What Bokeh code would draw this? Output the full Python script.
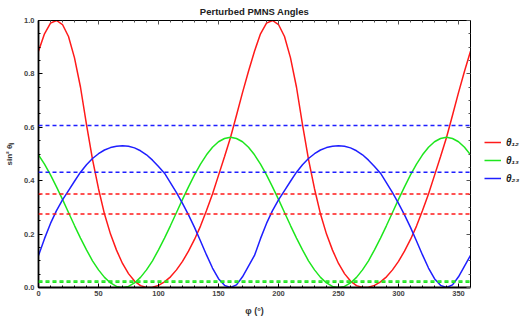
from bokeh.plotting import figure
from bokeh.layouts import row
from bokeh.models import (Range1d, FixedTicker, LinearAxis, Legend, LegendItem,
                          Span, CustomJSTickFormatter)
from bokeh.embed import file_html
from bokeh.resources import INLINE

# ---- data ----
phi = list(range(0, 361, 5))

theta12 = [0.885, 0.950, 0.990, 1.000, 0.985, 0.940, 0.860, 0.750, 0.610, 0.480,
           0.370, 0.275, 0.200, 0.140, 0.090, 0.052, 0.024, 0.007, 0.000, 0.001,
           0.008, 0.021, 0.040, 0.066, 0.098, 0.136, 0.180, 0.230, 0.288, 0.350,
           0.420, 0.490, 0.562, 0.645, 0.730, 0.810, 0.885,
           0.950, 0.990, 1.000, 0.985, 0.940, 0.860, 0.750, 0.610, 0.480,
           0.370, 0.275, 0.200, 0.140, 0.090, 0.052, 0.024, 0.007, 0.000, 0.001,
           0.008, 0.021, 0.040, 0.066, 0.098, 0.136, 0.180, 0.230, 0.288, 0.350,
           0.420, 0.490, 0.562, 0.645, 0.730, 0.810, 0.885]

theta13 = [0.497, 0.462, 0.422, 0.377, 0.330, 0.281, 0.232, 0.185, 0.141, 0.100,
           0.066, 0.038, 0.017, 0.004, 0.000, 0.004, 0.017, 0.038, 0.066, 0.100,
           0.141, 0.185, 0.232, 0.281, 0.330, 0.377, 0.422, 0.462, 0.497, 0.525,
           0.546, 0.558, 0.5625, 0.558, 0.546, 0.525, 0.497,
           0.462, 0.422, 0.377, 0.330, 0.281, 0.232, 0.185, 0.141, 0.100,
           0.066, 0.038, 0.017, 0.004, 0.000, 0.004, 0.017, 0.038, 0.066, 0.100,
           0.141, 0.185, 0.232, 0.281, 0.330, 0.377, 0.422, 0.462, 0.497, 0.525,
           0.546, 0.558, 0.5625, 0.558, 0.546, 0.525, 0.497]

theta23 = [0.120, 0.183, 0.240, 0.288, 0.328, 0.363, 0.398, 0.432, 0.460, 0.483,
           0.501, 0.515, 0.524, 0.529, 0.531, 0.529, 0.523, 0.512, 0.497, 0.477,
           0.453, 0.428, 0.392, 0.355, 0.315, 0.272, 0.225, 0.174, 0.122, 0.073,
           0.033, 0.008, 0.000, 0.010, 0.040, 0.080, 0.120,
           0.183, 0.240, 0.288, 0.328, 0.363, 0.398, 0.432, 0.460, 0.483,
           0.501, 0.515, 0.524, 0.529, 0.531, 0.529, 0.523, 0.512, 0.497, 0.477,
           0.453, 0.428, 0.392, 0.355, 0.315, 0.272, 0.225, 0.174, 0.122, 0.073,
           0.033, 0.008, 0.000, 0.010, 0.040, 0.080, 0.120]

theta12_bounds = [0.275, 0.350]
theta13_bounds = [0.0199, 0.0244]
theta23_bounds = [0.432, 0.607]

x_ticks = [0, 50, 100, 150, 200, 250, 300, 350]
x_minor = list(range(0, 361, 10))
y_ticks = [0.0, 0.2, 0.4, 0.6, 0.8, 1.0]
y_tick_labels = ["0.0", "0.2", "0.4", "0.6", "0.8", "1.0"]
y_minor = [i * 0.05 for i in range(21)]

series_names = ["θ₁₂", "θ₁₃", "θ₂₃"]
colors = ["#ff1a1a", "#1ee61e", "#1f1fff"]

# ---- main figure ----
p = figure(width=478, height=321, output_backend="svg", toolbar_location=None,
           x_range=Range1d(0, 360), y_range=Range1d(0, 1.0),
           title="Perturbed PMNS Angles",
           min_border_left=38, min_border_right=8, min_border_top=20,
           min_border_bottom=34)
p.background_fill_color = "white"
p.border_fill_color = "white"
p.outline_line_color = "black"
p.outline_line_width = 1
p.grid.visible = False

p.title.align = "center"
p.title.text_font = "Liberation Sans"
p.title.text_font_size = "9.5px"
p.title.text_font_style = "bold"
p.title.text_color = "#222222"
p.title.standoff = 7

tick_font = "Liberation Sans"

xa = p.xaxis[0]
xa.ticker = FixedTicker(ticks=x_ticks, minor_ticks=x_minor)
ya = p.yaxis[0]
ya.ticker = FixedTicker(ticks=y_ticks, minor_ticks=y_minor)
ya.major_label_overrides = {t: l for t, l in zip(y_ticks, y_tick_labels)}

for ax in (xa, ya):
    ax.major_tick_in = 4
    ax.major_tick_out = 0
    ax.minor_tick_in = 2
    ax.minor_tick_out = 0
    ax.axis_line_width = 1.8
    ax.axis_line_color = "black"
    ax.major_tick_line_color = "black"
    ax.minor_tick_line_color = "black"
    ax.major_label_text_font = tick_font
    ax.major_label_text_font_size = "7.5px"
    ax.major_label_text_font_style = "bold"
    ax.major_label_text_color = "#444444"
    ax.axis_label_text_font = tick_font
    ax.axis_label_text_font_style = "bold"
    ax.axis_label_text_color = "#333333"

xa.axis_label = "φ (°)"
xa.axis_label_text_font_size = "9px"
xa.major_label_standoff = 3
xa.axis_label_standoff = 7
ya.axis_label = "sin² θᵢⱼ"
ya.axis_label_text_font_size = "8px"
ya.major_label_standoff = 4
ya.axis_label_standoff = 7

blank = CustomJSTickFormatter(code="return '';")
top = LinearAxis(ticker=FixedTicker(ticks=x_ticks, minor_ticks=x_minor), formatter=blank)
right = LinearAxis(ticker=FixedTicker(ticks=y_ticks, minor_ticks=y_minor), formatter=blank)
for ax in (top, right):
    ax.major_tick_in = 4
    ax.major_tick_out = 0
    ax.minor_tick_in = 2
    ax.minor_tick_out = 0
    ax.axis_line_color = "black"
    ax.axis_line_width = 1
    ax.major_tick_line_color = "#555555"
    ax.minor_tick_line_color = "#555555"
    ax.major_label_standoff = 0
    ax.major_label_text_font_size = "1px"
p.add_layout(top, "above")
p.add_layout(right, "right")

# experimental bounds
for vals, c in ((theta23_bounds, colors[2]), (theta12_bounds, colors[0]),
                (theta13_bounds, colors[1])):
    for v in vals:
        p.add_layout(Span(location=v, dimension="width", line_color=c,
                          line_width=1.5, line_dash="4 3"))

for ys, c in zip((theta12, theta13, theta23), colors):
    p.line(phi, ys, line_color=c, line_width=1.5)

# ---- legend panel ----
q = figure(width=52, height=321, output_backend="svg", toolbar_location=None,
           x_range=Range1d(0, 1), y_range=Range1d(0, 1),
           min_border_left=0, min_border_right=0, min_border_top=0,
           min_border_bottom=0)
q.axis.visible = False
q.grid.visible = False
q.outline_line_color = None
q.background_fill_color = "white"
q.border_fill_color = "white"

nan = float("nan")
leg_renderers = [q.line([nan, nan], [nan, nan], line_color=c, line_width=1.5)
                 for c in colors]
legend = Legend(items=[LegendItem(label=n, renderers=[r])
                       for n, r in zip(series_names, leg_renderers)],
                location=(6, 102))
legend.margin = 0
legend.padding = 0
legend.spacing = 4
legend.glyph_width = 17
legend.glyph_height = 14
legend.label_height = 14
legend.label_standoff = 5
legend.label_text_font = "Liberation Sans"
legend.label_text_font_size = "10px"
legend.label_text_font_style = "bold italic"
legend.label_text_color = "#222222"
legend.background_fill_alpha = 0
legend.border_line_alpha = 0
q.add_layout(legend, "center")

layout = row(p, q, spacing=0)
open("out.html", "w").write(file_html(layout, INLINE))
